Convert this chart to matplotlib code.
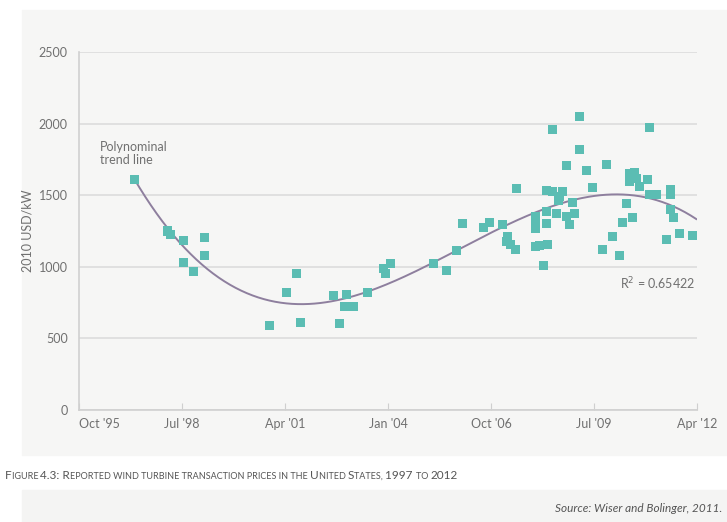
import numpy as np
import matplotlib.pyplot as plt
from matplotlib.patches import Rectangle

# reported transaction prices, decimal year vs 2010 USD/kW
dates = [1997.22, 1998.11, 1998.18, 1998.55, 1998.55, 1998.80, 1999.09, 1999.09,
         2000.84, 2001.29, 2001.56, 2001.66, 2002.55, 2002.71, 2002.83, 2002.90,
         2003.07, 2003.44, 2003.89, 2003.94, 2004.06, 2005.21, 2005.56, 2005.83,
         2005.99, 2006.54, 2006.70, 2007.07, 2007.20, 2007.16, 2007.27, 2007.43,
         2007.40, 2007.95, 2007.95, 2007.95, 2007.95, 2008.05, 2008.15, 2008.22,
         2008.23, 2008.23, 2008.25, 2008.40, 2008.40, 2008.49, 2008.54, 2008.58,
         2008.66, 2008.77, 2008.77, 2008.84, 2008.93, 2008.99, 2009.11, 2009.11,
         2009.29, 2009.47, 2009.73, 2009.84, 2010.00, 2010.18, 2010.27, 2010.37,
         2010.46, 2010.46, 2010.53, 2010.59, 2010.63, 2010.72, 2010.92, 2010.99,
         2010.99, 2011.17, 2011.44, 2011.53, 2011.53, 2011.53, 2011.62, 2011.78,
         2012.13]
prices = [1611, 1250, 1227, 1187, 1031, 966, 1206, 1078,
          589, 822, 954, 610, 798, 605, 726, 810,
          726, 822, 989, 954, 1024, 1024, 973, 1117,
          1299, 1273, 1308, 1292, 1215, 1175, 1157, 1548,
          1124, 1350, 1304, 1269, 1141, 1152, 1008, 1536,
          1385, 1299, 1159, 1960, 1525, 1373, 1466, 1490,
          1525, 1704, 1350, 1292, 1448, 1373, 2053, 1816,
          1671, 1555, 1124, 1711, 1215, 1082, 1311, 1443,
          1653, 1594, 1345, 1657, 1620, 1564, 1611, 1972,
          1508, 1508, 1192, 1541, 1508, 1397, 1345, 1234,
          1222]
r2_text = "R$^2$ = 0.65422"

tick_pos = [1995.75 + 2.75 * k for k in range(7)]
tick_labels = ["Oct '95", "Jul '98", "Apr '01", "Jan '04", "Oct '06", "Jul '09", "Apr '12"]

plt.rcParams['font.family'] = ['Lato', 'DejaVu Sans']
grey_txt = '#707070'
teal = '#5bbdb3'

fig = plt.figure(figsize=(7.27, 5.22), dpi=100)
fig.patch.set_facecolor('white')
# background panels
fig.patches.append(Rectangle((22 / 727, 1 - 455 / 522), 705 / 727, 445 / 522,
                             transform=fig.transFigure, color='#f6f6f5', zorder=-10))
fig.patches.append(Rectangle((22 / 727, 0), 705 / 727, 32 / 522,
                             transform=fig.transFigure, color='#f4f4f3', zorder=-10))

ax = fig.add_axes([79 / 727, 1 - 410 / 522, 618 / 727, 358 / 522])
ax.set_facecolor('none')

# trend line (cubic fit to the points)
coef = np.polyfit(dates, prices, 3)
xs = np.linspace(min(dates), max(dates) + 0.1, 300)
ax.plot(xs, np.polyval(coef, xs), color='#8e7f9e', lw=1.4, zorder=2)
ax.scatter(dates, prices, marker='s', s=42, color=teal, edgecolors='none', zorder=3)

ax.set_xlim(1995.75, 2012.25)
ax.set_ylim(0, 2500)
ax.set_yticks([0, 500, 1000, 1500, 2000, 2500])
ax.yaxis.grid(True, color='#dcdcdc', lw=1.2)
ax.set_axisbelow(True)
ax.set_xticks(tick_pos)
ax.set_xticklabels(tick_labels)
ax.get_xticklabels()[0].set_ha('left')
ax.tick_params(axis='x', direction='in', length=5, color='#cfcfcf', pad=6,
               labelsize=9, labelcolor=grey_txt)
ax.tick_params(axis='y', length=0, pad=8, labelsize=9, labelcolor=grey_txt)
for s in ['top', 'right']:
    ax.spines[s].set_visible(False)
for s in ['left', 'bottom']:
    ax.spines[s].set_color('#d0d0d0')
    ax.spines[s].set_linewidth(1.2)
ax.set_ylabel('2010 USD/kW', color=grey_txt, fontsize=9, labelpad=4)

ax.text(1996.3, 1720, 'Polynominal\ntrend line', color=grey_txt, fontsize=9,
        linespacing=1.1)
ax.text(2012.2, 840, r2_text, color=grey_txt, fontsize=9, ha='right')

# caption in small caps
segs = [("F", 8.5), ("IGURE ", 6.5), ("4.3: R", 8.5), ("EPORTED WIND TURBINE TRANSACTION PRICES IN THE ", 6.5),
        ("U", 8.5), ("NITED ", 6.5), ("S", 8.5), ("TATES, ", 6.5), ("1997 ", 8.5), ("TO ", 6.5), ("2012", 8.5)]
fig.canvas.draw()
r = fig.canvas.get_renderer()
xpix = 5
for txt, sz in segs:
    t = fig.text(xpix / 727, 1 - 479 / 522, txt, fontsize=sz, color='#555555')
    bb = t.get_window_extent(renderer=r)
    xpix += bb.width

fig.text(722 / 727, 1 - 512 / 522, 'Source: Wiser and Bolinger, 2011.', fontsize=8.5,
         style='italic', color='#555555', ha='right')

fig.savefig('out.png', dpi=100)
